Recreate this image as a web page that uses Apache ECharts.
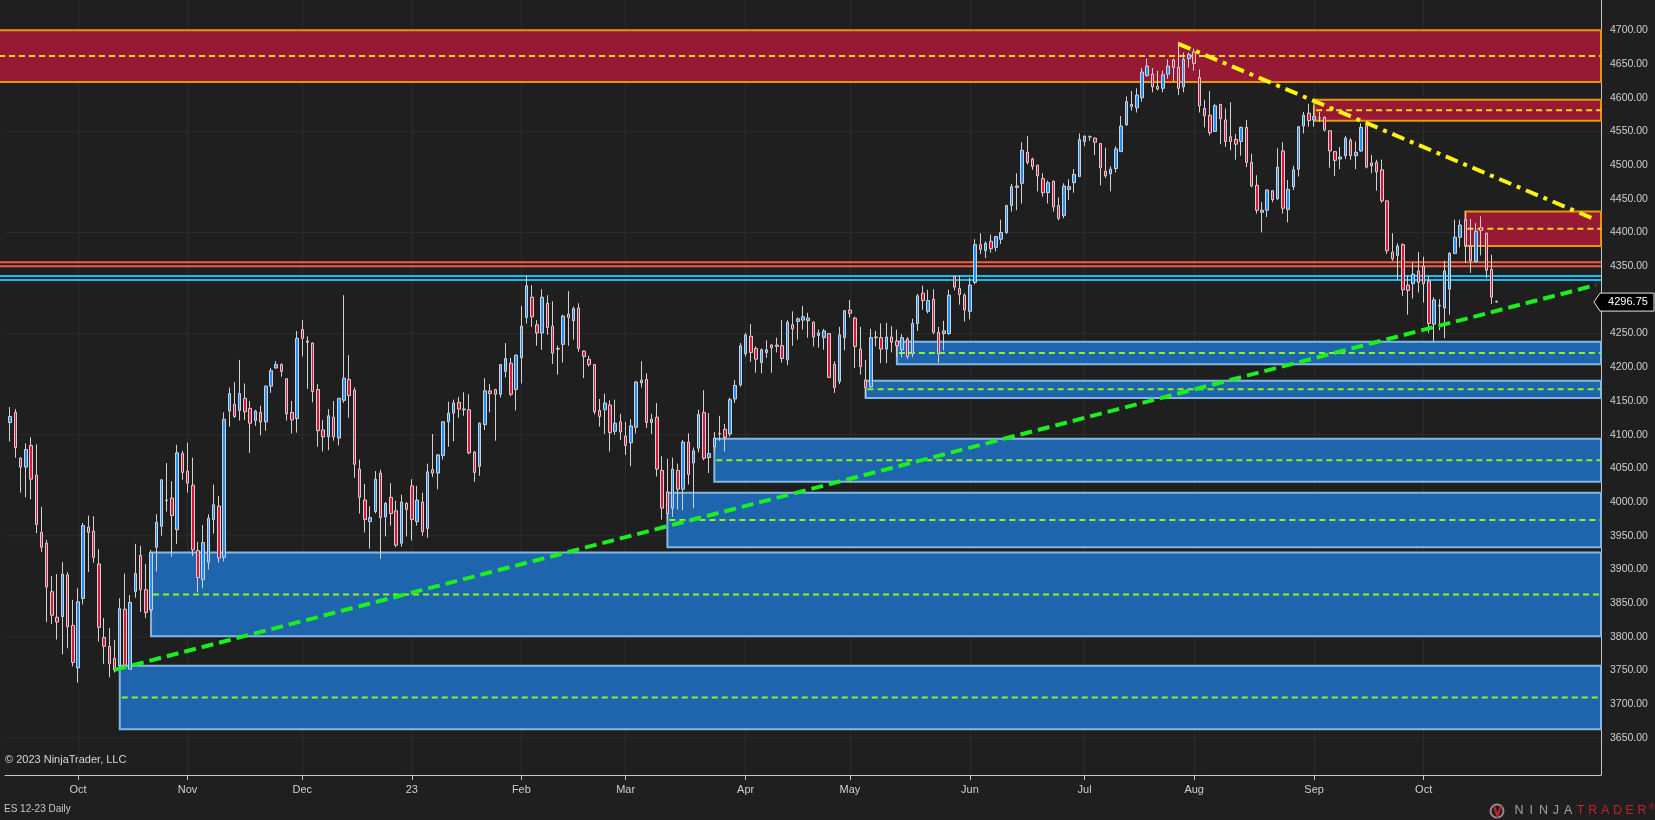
<!DOCTYPE html>
<html>
<head>
<meta charset="utf-8">
<title>ES 12-23 Daily</title>
<script src="https://cdn.jsdelivr.net/npm/echarts@6/dist/echarts.min.js"></script>
<style>
  html, body { margin: 0; padding: 0; background: #1f1f1f; }
  #chart { width: 1655px; height: 820px; }
</style>
</head>
<body>
<div id="chart"></div>
<script>
// 日线 K 线 [开, 高, 低, 收]
const candles = [
    // 2022-09
    [4118,4141,4090,4127],[4133,4138,4066,4081],[4065,4067,4014,4052],[4052,4087,4007,4078],
    [4084,4096,4004,4034],[4040,4086,3954,3967],[3955,3993,3926,3933],[3939,3944,3822,3874],
    [3867,3890,3819,3832],[3829,3893,3796,3822],[3830,3911,3774,3893],[3892,3896,3783,3815],
    [3817,3855,3756,3762],
    // 2022-10
    [3754,3872,3732,3852],[3857,3969,3848,3965],[3963,3980,3896,3955],[3957,3979,3910,3918],
    [3908,3930,3793,3814],[3799,3828,3760,3786],[3786,3813,3740,3760],[3768,3795,3747,3751],
    [3757,3857,3753,3842],[3841,3894,3756,3758],[3752,3862,3752,3851],[3867,3938,3858,3894],
    [3921,3935,3837,3870],[3870,3908,3828,3836],[3840,3929,3837,3925],[3933,3982,3897,3970],
    [3964,4034,3950,4033],[4003,4058,3986,4002],[4006,4031,3919,3980],[3959,4085,3938,4073],
    [4072,4076,4033,4044],
    // 2022-11
    [4046,4088,4014,4028],[4025,4066,3920,3929],[3928,3941,3866,3888],[3885,3966,3872,3940],
    [3911,3982,3900,3976],[3974,4026,3953,3996],[3994,4009,3910,3917],[3918,4133,3912,4123],
    [4135,4170,4112,4161],[4145,4178,4125,4127],[4136,4211,4121,4161],[4154,4176,4122,4134],
    [4139,4150,4073,4117],[4121,4137,4113,4135],[4133,4143,4099,4119],[4119,4173,4106,4172],
    [4172,4199,4162,4195],[4199,4209,4198,4204],[4204,4206,4186,4194],[4183,4184,4121,4131],
    [4133,4150,4102,4122],[4124,4254,4103,4243],
    // 2022-12
    [4256,4270,4216,4243],[4239,4246,4168,4237],[4236,4237,4148,4164],[4167,4175,4082,4106],
    [4107,4122,4075,4097],[4097,4138,4077,4128],[4126,4150,4091,4097],[4095,4154,4084,4154],
    [4151,4307,4147,4184],[4182,4218,4125,4158],[4166,4170,4036,4056],[4049,4063,3983,4007],
    [4003,4027,3955,3974],[3971,3994,3931,3977],[3986,4046,3983,4034],[4043,4048,3916,3977],
    [3978,4000,3949,3998],[4007,4028,3965,3983],[3987,4002,3933,3936],[3939,4011,3934,4000],
    [3998,4000,3949,3989],
    // 2023-01
    [4024,4034,3943,3974],[3971,4024,3965,4003],[4000,4014,3950,3956],[3961,4057,3947,4045],
    [4048,4101,4037,4043],[4043,4071,4019,4070],[4069,4120,4063,4119],[4119,4149,4082,4132],
    [4132,4152,4090,4147],[4148,4156,4125,4138],[4138,4163,4128,4137],[4137,4160,4071,4073],
    [4074,4076,4030,4044],[4053,4118,4039,4117],[4115,4184,4107,4165],[4165,4175,4133,4161],
    [4167,4168,4091,4160],[4160,4205,4155,4204],[4194,4236,4185,4213],[4206,4214,4157,4160],
    [4167,4219,4136,4218],
    // 2023-02
    [4214,4291,4176,4261],[4274,4336,4265,4321],[4304,4322,4260,4275],[4263,4270,4232,4251],
    [4251,4316,4226,4304],[4295,4307,4248,4259],[4261,4298,4205,4221],[4228,4232,4189,4227],
    [4234,4278,4207,4276],[4279,4313,4232,4274],[4269,4290,4241,4287],[4288,4295,4223,4228],
    [4224,4225,4184,4216],[4212,4217,4201,4204],[4204,4205,4130,4134],[4136,4153,4112,4127],
    [4137,4161,4101,4147],[4144,4151,4075,4103],[4105,4152,4100,4117],[4119,4131,4092,4104],
    // 2023-03
    [4098,4119,4070,4084],[4088,4123,4053,4113],[4111,4180,4102,4178],[4177,4209,4170,4181],
    [4182,4191,4110,4118],[4118,4131,4101,4123],[4126,4147,4038,4049],[4047,4068,3974,3991],
    [4015,4064,3974,3983],[3991,4066,3978,4049],[4047,4057,3989,4019],[4019,4092,3988,4089],
    [4089,4102,4026,4041],[4058,4081,3991,4076],[4080,4137,4074,4130],[4133,4166,4062,4065],
    [4066,4132,4043,4072],[4082,4104,4075,4095],[4102,4128,4091,4101],[4108,4116,4075,4096],
    [4101,4155,4097,4152],[4153,4181,4147,4173],[4174,4236,4171,4232],
    // 2023-04
    [4220,4251,4216,4248],[4246,4264,4208,4222],[4228,4231,4192,4212],[4207,4228,4191,4226],
    [4222,4240,4214,4226],[4233,4234,4192,4229],[4233,4244,4222,4231],[4232,4270,4207,4213],
    [4211,4270,4203,4267],[4263,4283,4232,4257],[4268,4274,4241,4272],[4270,4291,4256,4275],
    [4269,4281,4244,4273],[4267,4268,4231,4245],[4247,4256,4229,4251],[4244,4257,4226,4254],
    [4250,4251,4184,4185],[4204,4209,4162,4170],[4179,4260,4175,4248],[4244,4285,4225,4284],
    // 2023-05
    [4285,4300,4274,4280],[4273,4275,4199,4231],[4227,4260,4189,4201],[4181,4211,4156,4170],
    [4171,4257,4169,4244],[4244,4254,4231,4245],[4244,4265,4206,4227],[4227,4266,4206,4245],
    [4245,4261,4222,4237],[4239,4256,4216,4232],[4226,4249,4215,4244],[4242,4245,4212,4216],
    [4220,4272,4215,4265],[4265,4309,4254,4306],[4310,4321,4285,4299],[4283,4315,4280,4299],
    [4301,4316,4249,4252],[4252,4260,4207,4220],[4250,4269,4225,4254],[4250,4315,4248,4307],
    [4335,4336,4314,4319],[4317,4336,4293,4308],[4307,4310,4268,4285],
    // 2023-06
    [4283,4333,4271,4322],[4326,4390,4323,4382],[4382,4399,4368,4375],[4373,4387,4362,4384],
    [4387,4397,4370,4376],[4378,4395,4372,4394],[4390,4419,4383,4400],[4400,4441,4398,4440],
    [4440,4472,4431,4468],[4467,4488,4433,4469],[4473,4534,4443,4522],[4519,4543,4501,4504],
    [4509,4511,4493,4498],[4500,4500,4461,4484],[4480,4488,4453,4459],[4459,4477,4443,4474],
    [4476,4477,4431,4438],[4440,4452,4418,4421],[4425,4473,4421,4469],[4464,4479,4448,4468],
    [4474,4494,4459,4486],[4483,4547,4483,4538],
    // 2023-07
    [4535,4544,4528,4543],[4542,4544,4536,4542],[4540,4541,4515,4534],[4532,4532,4470,4496],
    [4491,4526,4481,4484],[4487,4498,4461,4494],[4495,4528,4489,4524],[4520,4573,4520,4558],
    [4560,4602,4558,4594],[4590,4610,4581,4587],[4585,4614,4578,4604],[4600,4644,4594,4638],
    [4633,4658,4631,4647],[4635,4644,4608,4616],[4617,4640,4611,4613],[4614,4640,4608,4634],
    [4635,4657,4628,4647],[4656,4658,4624,4645],[4645,4683,4604,4614],[4616,4667,4608,4657],
    [4658,4667,4645,4664],
    // 2023-08
    [4668,4673,4640,4651],[4630,4642,4578,4588],[4584,4597,4556,4573],[4574,4610,4544,4548],
    [4550,4591,4549,4588],[4590,4591,4531,4569],[4567,4584,4527,4535],[4542,4593,4522,4535],
    [4538,4546,4508,4531],[4535,4557,4514,4556],[4556,4567,4497,4504],[4504,4517,4467,4469],
    [4470,4485,4428,4433],[4430,4445,4400,4433],[4433,4464,4423,4463],[4462,4462,4445,4449],
    [4450,4525,4448,4497],[4521,4534,4428,4436],[4434,4478,4415,4464],[4468,4499,4463,4493],
    [4494,4558,4483,4557],[4558,4579,4547,4574],[4577,4591,4557,4566],
    // 2023-09
    [4567,4587,4557,4572],[4570,4579,4564,4570],[4571,4572,4550,4552],[4551,4551,4496,4521],
    [4520,4521,4484,4507],[4509,4527,4494,4512],[4514,4543,4509,4540],[4537,4540,4508,4514],
    [4514,4535,4494,4519],[4521,4562,4520,4556],[4558,4564,4495,4497],[4499,4515,4488,4503],
    [4504,4508,4462,4490],[4493,4508,4444,4447],[4447,4447,4368,4373],[4371,4399,4358,4361],
    [4366,4384,4330,4380],[4382,4384,4306,4315],[4322,4336,4278,4314],[4324,4356,4302,4338],
    [4343,4371,4311,4326],
    // 2023-10
    [4350,4364,4296,4324],[4328,4335,4251,4265],[4264,4304,4238,4300],[4291,4301,4255,4292],
    [4288,4358,4243,4343],[4316,4371,4278,4369],[4369,4419,4368,4393],[4393,4419,4378,4411],
    [4419,4431,4355,4380],[4380,4420,4340,4358],[4357,4414,4355,4402],[4407,4424,4366,4403],
    [4399,4400,4332,4344],[4345,4367,4294,4304],[4298,4299,4296,4297]
];

// 交易日（跳过周末和休市日）
const firstDay = '2022-09-14';
const closedDays = ['2022-12-26', '2023-01-02'];
const padRight = 20;

// 价格刻度与网格
const priceLabels = [3650, 3700, 3750, 3800, 3850, 3900, 3950, 4000, 4050, 4100, 4150, 4200,
    4250, 4300, 4350, 4400, 4450, 4500, 4550, 4600, 4650, 4700];
const gridLevels = [3650, 3800, 3950, 4100, 4250, 4400, 4550, 4700];

// 供给区（红）与需求区（蓝）: from = 起始K线序号, -1 为整幅
const supplyFrom = [-1, 250, 279];
const supplyLow = [4623.5, 4566, 4380];
const supplyHigh = [4700, 4597, 4431];
const demandFrom = [170, 164, 135, 126, 27, 21];
const demandLow = [4204.5, 4154.5, 4030, 3933, 3801, 3663];
const demandHigh = [4238, 4180, 4094, 4014, 3925, 3757];

// 水平线
const resistanceLines = [4356, 4350];
const supportLines = [4335.5, 4329.5];

// 趋势线 [K线序号, 价格]
const upTrend = [[20, 3751], [304, 4322]];
const downTrend = [[224, 4680], [304, 4419]];

const lastPrice = 4296.75;

const FONT = '"Liberation Sans", Arial, sans-serif';
const MONTHS = ['Jan','Feb','Mar','Apr','May','Jun','Jul','Aug','Sep','Oct','Nov','Dec'];

window.addEventListener('DOMContentLoaded', function() {
    initChart();
});

function buildTradingDays(startIso, count, closed) {
    const days = [];
    const d = new Date(startIso + 'T00:00:00Z');
    while (days.length < count) {
        const dow = d.getUTCDay();
        const iso = d.toISOString().slice(0, 10);
        if (dow !== 0 && dow !== 6 && closed.indexOf(iso) < 0) days.push(iso);
        d.setUTCDate(d.getUTCDate() + 1);
    }
    return days;
}

// 右下角标志
function buildLogo() {
    const items = [
        { type: 'circle', shape: { cx: 1497, cy: 811, r: 6.5 },
          style: { fill: 'none', stroke: '#8e8e8e', lineWidth: 2 } },
        { type: 'polyline', shape: { points: [[1494, 806], [1497.5, 816], [1501, 806]] },
          style: { fill: 'none', stroke: '#c8222e', lineWidth: 2.2 } }
    ];
    const word = 'NINJATRADER';
    for (let i = 0; i < word.length; i++) {
        items.push({
            type: 'text', x: 1519 + i * 12.3, y: 811,
            style: { text: word[i], fill: i < 5 ? '#a2a2a2' : '#c4222e',
                     font: '12.5px ' + FONT, align: 'center', verticalAlign: 'middle' }
        });
    }
    items.push({ type: 'text', x: 1652, y: 807,
        style: { text: '®', fill: '#c4222e', font: '8px ' + FONT, align: 'center', verticalAlign: 'middle' } });
    return items;
}

function initChart() {
    const chartDom = document.getElementById('chart');
    const myChart = echarts.init(chartDom);

    const days = buildTradingDays(firstDay, candles.length, closedDays);
    const categories = ['p0'].concat(days);
    for (let i = 0; i < padRight; i++) categories.push('p' + (i + 1));

    // 月初位置
    const monthStart = {};
    for (let i = 1; i < days.length; i++) {
        if (days[i].slice(5, 7) !== days[i - 1].slice(5, 7)) monthStart[i + 1] = true;
    }
    const isMonthStart = (index) => !!monthStart[index];

    const candleData = candles.map((c, i) => [i + 1, c[0], c[3], c[2], c[1]]);

    const zoneData = (from, low, high) => from.map((f, i) => [f + 1, low[i], high[i]]);

    function zoneRender(fill, border, midColor) {
        return function(params, api) {
            const cs = params.coordSys;
            const right = cs.x + cs.width;
            const c = api.value(0);
            const low = api.value(1), high = api.value(2);
            const yTop = api.coord([0, high])[1];
            const yBot = api.coord([0, low])[1];
            const yMid = api.coord([0, (low + high) / 2])[1];
            const x0 = c === 0 ? -3 : api.coord([c, high])[0];
            return {
                type: 'group',
                children: [
                    { type: 'rect', shape: { x: x0, y: yTop, width: right - x0, height: yBot - yTop },
                      style: { fill: fill, stroke: border, lineWidth: 2 } },
                    { type: 'line', shape: { x1: x0 + 2, y1: yMid, x2: right, y2: yMid },
                      style: { stroke: midColor, lineWidth: 2, lineDash: [6, 4] } }
                ]
            };
        };
    }

    function hLineRender(fromEdge, style) {
        return function(params, api) {
            const cs = params.coordSys;
            const y = api.coord([0, api.value(1)])[1];
            return { type: 'line', shape: { x1: fromEdge ? 0 : cs.x, y1: y, x2: cs.x + cs.width, y2: y }, style: style };
        };
    }

    function trendRender(style) {
        return function(params, api) {
            const p1 = api.coord([api.value(0), api.value(1)]);
            const p2 = api.coord([api.value(2), api.value(3)]);
            return { type: 'line', shape: { x1: p1[0], y1: p1[1], x2: p2[0], y2: p2[1] }, style: style };
        };
    }

    const trendData = (t) => [[t[0][0] + 1, t[0][1], t[1][0] + 1, t[1][1]]];

    const option = {
        backgroundColor: '#1f1f1f',
        animation: false,
        textStyle: { fontFamily: FONT },
        grid: { left: 5, right: 54, top: 0, bottom: 45 },
        xAxis: {
            type: 'category',
            data: categories,
            boundaryGap: false,
            axisLine: { lineStyle: { color: '#c8c8c8', width: 1 } },
            axisTick: { interval: isMonthStart, length: 5, lineStyle: { color: '#c8c8c8' } },
            axisLabel: {
                interval: isMonthStart,
                color: '#cfcfcf',
                fontSize: 11,
                fontFamily: FONT,
                margin: 9,
                formatter: function(v) {
                    const m = parseInt(v.slice(5, 7), 10) - 1;
                    return m === 0 ? v.slice(2, 4) : MONTHS[m];
                }
            },
            splitLine: { show: true, interval: isMonthStart, lineStyle: { color: '#2c2c2c', width: 1 } }
        },
        yAxis: {
            type: 'value',
            position: 'right',
            min: 3595,
            max: 4745,
            interval: 5,
            axisLine: { show: true, lineStyle: { color: '#c8c8c8' } },
            axisTick: { show: false },
            splitLine: { show: false },
            axisLabel: {
                color: '#cfcfcf',
                fontSize: 10.5,
                fontFamily: FONT,
                margin: 9,
                formatter: function(v) {
                    return (priceLabels.indexOf(v) >= 0 && v !== 4300) ? v.toFixed(2) : '';
                }
            }
        },
        graphic: [
            { type: 'text', left: 5, top: 754,
              style: { text: '© 2023 NinjaTrader, LLC', fill: '#d6d6d6', font: '11px ' + FONT } },
            { type: 'text', left: 4, top: 804,
              style: { text: 'ES 12-23 Daily', fill: '#c8c8c8', font: '10px ' + FONT } }
        ].concat(buildLogo()),
        series: [
            {
                name: 'grid',
                type: 'custom',
                z: 0,
                silent: true,
                data: gridLevels.map(v => [0, v]),
                renderItem: hLineRender(false, { stroke: '#2c2c2c', lineWidth: 1 })
            },
            {
                name: 'supply',
                type: 'custom',
                z: 1,
                silent: true,
                data: zoneData(supplyFrom, supplyLow, supplyHigh),
                renderItem: zoneRender('#971a34', '#e5960a', '#ffd21f')
            },
            {
                name: 'demand',
                type: 'custom',
                z: 1,
                silent: true,
                data: zoneData(demandFrom, demandLow, demandHigh),
                renderItem: zoneRender('#1f65ae', '#84b8e2', '#8cf51a')
            },
            {
                name: 'resistance',
                type: 'custom',
                z: 2,
                silent: true,
                data: resistanceLines.map(v => [0, v]),
                renderItem: hLineRender(true, { stroke: '#f4603e', lineWidth: 2 })
            },
            {
                name: 'support',
                type: 'custom',
                z: 2,
                silent: true,
                data: supportLines.map(v => [0, v]),
                renderItem: hLineRender(true, { stroke: '#10bdf5', lineWidth: 2 })
            },
            {
                name: 'ES',
                type: 'candlestick',
                z: 5,
                data: candleData,
                encode: { x: 0, y: [1, 2, 3, 4] },
                barWidth: 3,
                itemStyle: {
                    color: '#1e8fff',
                    color0: '#e0143c',
                    borderColor: '#d2d2d2',
                    borderColor0: '#d2d2d2',
                    borderWidth: 1
                }
            },
            {
                name: 'upTrend',
                type: 'custom',
                z: 8,
                silent: true,
                data: trendData(upTrend),
                renderItem: trendRender({ stroke: '#19f01e', lineWidth: 4, lineDash: [12, 6] })
            },
            {
                name: 'downTrend',
                type: 'custom',
                z: 8,
                silent: true,
                data: trendData(downTrend),
                renderItem: trendRender({ stroke: '#fff214', lineWidth: 4, lineDash: [13, 6, 4, 6] })
            },
            {
                name: 'lastPrice',
                type: 'custom',
                z: 9,
                silent: true,
                data: [[candles.length, lastPrice]],
                renderItem: function(params, api) {
                    const cs = params.coordSys;
                    const x = cs.x + cs.width;
                    const y = api.coord([api.value(0), api.value(1)])[1];
                    return {
                        type: 'group',
                        children: [
                            { type: 'polygon',
                              shape: { points: [[x - 7, y], [x - 1, y - 9], [x + 53, y - 9], [x + 53, y + 9], [x - 1, y + 9]] },
                              style: { fill: '#000000', stroke: '#e6e6e6', lineWidth: 1 } },
                            { type: 'text', x: x + 27, y: y,
                              style: { text: lastPrice.toFixed(2), fill: '#ffffff', font: '11px ' + FONT,
                                       align: 'center', verticalAlign: 'middle' } }
                        ]
                    };
                }
            }
        ]
    };

    myChart.setOption(option);
    window.addEventListener('resize', () => myChart.resize());
}
</script>
</body>
</html>
